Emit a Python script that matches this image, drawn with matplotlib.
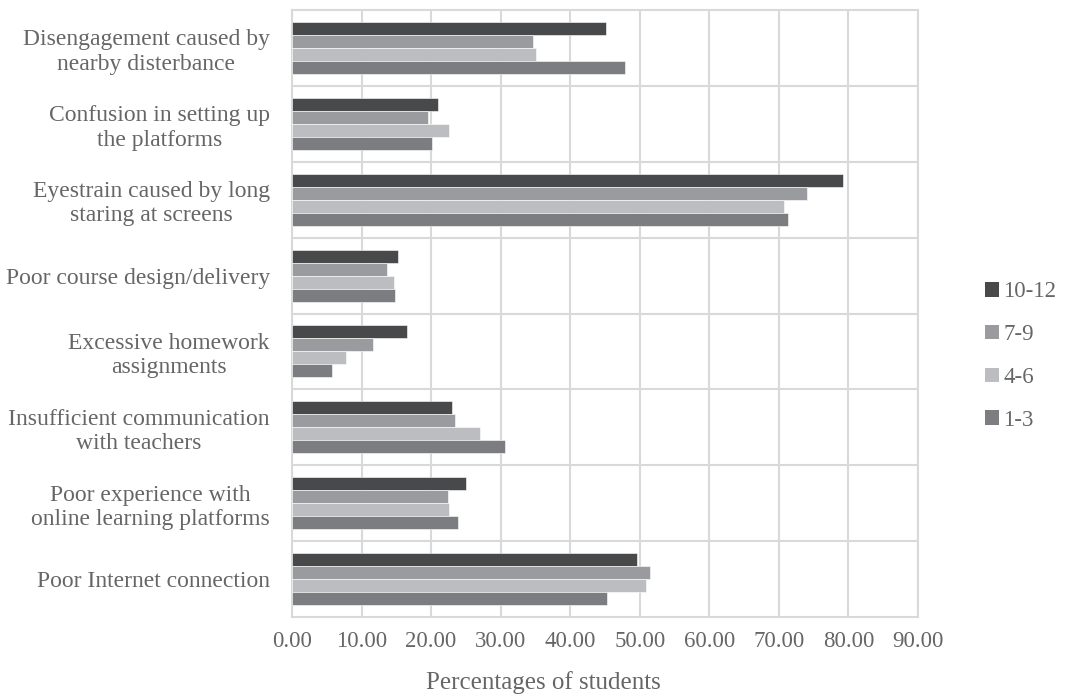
import numpy as np
import matplotlib.pyplot as plt
from matplotlib.patches import Patch

plt.rcParams['font.family'] = ['Liberation Serif', 'DejaVu Serif']

# categories, top to bottom as shown
categories = [
    'Disengagement caused by\nnearby disterbance',
    'Confusion in setting up\nthe platforms',
    'Eyestrain caused by long\nstaring at screens',
    'Poor course design/delivery',
    'Excessive homework\nassignments',
    'Insufficient communication\nwith teachers',
    'Poor experience with\nonline learning platforms',
    'Poor Internet connection',
]
grades = ['10-12', '7-9', '4-6', '1-3']
g10_12 = [45.1, 21.0, 79.2, 15.3, 16.6, 23.0, 25.0, 49.6]
g7_9 = [34.7, 19.5, 74.1, 13.7, 11.7, 23.4, 22.4, 51.4]
g4_6 = [35.1, 22.5, 70.7, 14.6, 7.7, 27.1, 22.6, 50.9]
g1_3 = [47.9, 20.1, 71.3, 14.8, 5.8, 30.6, 23.8, 45.3]

series = [g10_12, g7_9, g4_6, g1_3]
colors = ['#48494b', '#9a9b9e', '#bcbdc0', '#7c7d80']
txt = '#666666'
grid = '#d9d9d9'

fig = plt.figure(figsize=(10.66, 6.96), dpi=100)
ax = fig.add_axes([292 / 1066, 1 - 617 / 696, (918 - 292) / 1066, (617 - 10) / 696])

y = np.arange(len(categories))
h = 0.685 / 4
for i, (vals, c) in enumerate(zip(series, colors)):
    ax.barh(y - 1.5 * h + i * h, vals, height=h, color=c,
            edgecolor='white', linewidth=0.4, zorder=3)

ax.set_xlim(0, 90)
ax.set_ylim(len(categories) - 0.5, -0.5)
ax.set_xticks(np.arange(0, 91, 10))
ax.set_xticklabels([f'{v:.2f}' for v in np.arange(0, 91, 10)])
ax.set_yticks(y)
ax.set_yticklabels(categories, multialignment='center')
ax.tick_params(length=0, labelsize=16.5, labelcolor=txt)
ax.tick_params(axis='y', pad=16, labelsize=17)
ax.tick_params(axis='x', pad=10)

ax.grid(axis='x', color=grid, linewidth=1.5, zorder=0)
for b in np.arange(0.5, len(categories) - 0.5):
    ax.axhline(b, color=grid, linewidth=1.5, zorder=0)
for s in ax.spines.values():
    s.set_color(grid)
    s.set_linewidth(1.5)

ax.set_xlabel('Percentages of students', fontsize=18, color=txt, labelpad=14)
ax.xaxis.label.set_x((543 - 292) / (918 - 292))

handles = [Patch(facecolor=c, label=g) for g, c in zip(grades, colors)]
fig.legend(handles=handles, loc='center left', bbox_to_anchor=(985 / 1066, 1 - 356 / 696),
           frameon=False, fontsize=16.5, labelcolor=txt, handlelength=0.6,
           handleheight=0.6, handletextpad=0.2, labelspacing=0.95, borderpad=0,
           borderaxespad=0)

fig.savefig('out.png', dpi=100)
